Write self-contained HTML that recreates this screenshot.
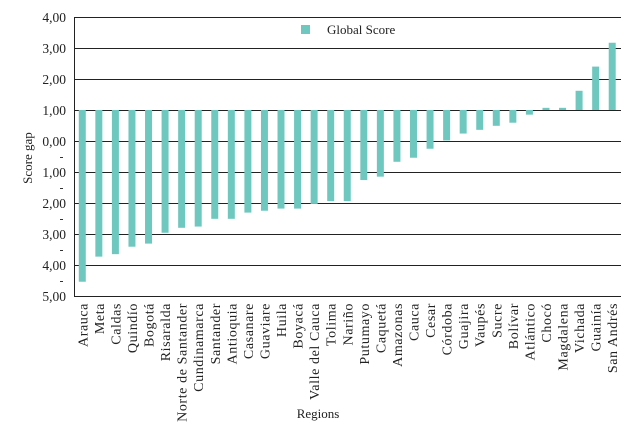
<!DOCTYPE html>
<html><head><meta charset="utf-8"><style>
html,body{margin:0;padding:0;background:#fff;width:639px;height:429px;overflow:hidden}
svg{display:block;font-family:"Liberation Serif",serif}
</style></head><body>
<svg id="chart" width="639" height="429" viewBox="0 0 639 429"></svg>
<script>
const categories=["Arauca","Meta","Caldas","Quindío","Bogotá","Risaralda","Norte de Santander","Cundinamarca","Santander","Antioquia","Casanare","Guaviare","Huila","Boyacá","Valle del Cauca","Tolima","Nariño","Putumayo","Caquetá","Amazonas","Cauca","Cesar","Córdoba","Guajira","Vaupés","Sucre","Bolívar","Atlántico","Chocó","Magdalena","Vichada","Guainía","San Andrés"];
const values=[-4.54,-3.73,-3.65,-3.41,-3.31,-2.96,-2.80,-2.76,-2.51,-2.51,-2.31,-2.25,-2.18,-2.18,-2.03,-1.94,-1.94,-1.26,-1.15,-0.67,-0.54,-0.25,0.02,0.24,0.36,0.49,0.59,0.85,1.07,1.07,1.62,2.40,3.17];
const tickValues=[4,3,2,1,0,-1,-2,-3,-4,-5];
const tickLabels=["4,00","3,00","2,00","1,00","0,00","1,00","2,00","3,00","4,00","5,00"];
const baseValue=1;
const NS="http://www.w3.org/2000/svg";
const svg=document.getElementById('chart');
const L=74.5,R=621,T=17,B=296,yMax=4,yMin=-5;
const y=v=>T+(yMax-v)/(yMax-yMin)*(B-T);
const step=(R-L)/categories.length;
const x=i=>L+step*(i+0.5)-0.5;
function mk(tag,a){const e=document.createElementNS(NS,tag);for(const k in a)e.setAttribute(k,a[k]);svg.appendChild(e);return e;}
tickValues.forEach((v,i)=>{
  const yy=Math.round(y(v))+0.5;
  if(v!==yMin){const g=mk('line',{x1:L,x2:R,y1:yy,y2:yy,stroke:'#222','stroke-width':1});
  
  }
  const t=mk('text',{x:66,y:yy+4.5,'text-anchor':'end','font-size':13.5,fill:'#222'});
  t.textContent=tickLabels[i];
  
  
  if(v<0){const d=mk('line',{x1:60,x2:63,y1:yy-15,y2:yy-15,stroke:'#333','stroke-width':1});
  
  }
});
values.forEach((v,i)=>{
  const y0=y(baseValue),y1=y(v);
  const r=mk('rect',{x:x(i)-3.5,y:Math.min(y0,y1),width:7,height:Math.max(1,Math.abs(y1-y0)),fill:'#6fc8c0'});
  
  
  const t=mk('text',{transform:`translate(${x(i)+5},303) rotate(-90)`,'text-anchor':'end','font-size':14,'letter-spacing':0.6,fill:'#222'});
  t.textContent=categories[i];
  
  
});
const ax=mk('path',{d:`M${L},${T}V${B+0.5}H${R}`,stroke:'#222','stroke-width':1,fill:'none'});


const ls=mk('rect',{x:301,y:25,width:9,height:9,fill:'#6fc8c0'});


const lt=mk('text',{x:327,y:34,'font-size':13,fill:'#222'});lt.textContent='Global Score';


const yt=mk('text',{transform:'translate(32,158) rotate(-90)','text-anchor':'middle','font-size':13,fill:'#222'});yt.textContent='Score gap';


const xt=mk('text',{x:318,y:418,'text-anchor':'middle','font-size':13,fill:'#222'});xt.textContent='Regions';


</script>
</body></html>
